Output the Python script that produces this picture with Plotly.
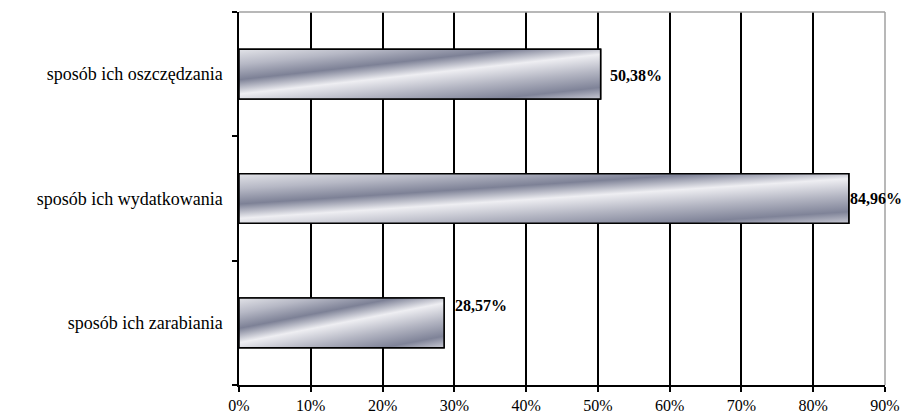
import base64
import plotly.graph_objects as go

# ---- data ----
categories = ["sposób ich zarabiania", "sposób ich wydatkowania", "sposób ich oszczędzania"]
values = [28.57, 84.96, 50.38]
value_labels = ["28,57%", "84,96%", "50,38%"]
x_tick_vals = [0, 10, 20, 30, 40, 50, 60, 70, 80, 90]
x_tick_text = ["0%", "10%", "20%", "30%", "40%", "50%", "60%", "70%", "80%", "90%"]

# ---- styling ----
BAR_W = 0.4
FONT = "Liberation Serif"
label_offsets = [(9, 17), (-1, 0), (7, -1)]  # (xshift, yshift) px per data label

# gradient fill (Excel-style metallic) as stretched SVG
svg = (
    "<svg xmlns='http://www.w3.org/2000/svg' width='100' height='100' viewBox='0 0 100 100' "
    "preserveAspectRatio='none'><defs><linearGradient id='g' x1='0' y1='0' x2='0.878' y2='1.098'>"
    "<stop offset='0' stop-color='#e2e3e8'/>"
    "<stop offset='0.17' stop-color='#b6b8c5'/>"
    "<stop offset='0.34' stop-color='#7d8196'/>"
    "<stop offset='0.50' stop-color='#eeeef2'/>"
    "<stop offset='0.69' stop-color='#b3b5c2'/>"
    "<stop offset='0.87' stop-color='#7f8398'/>"
    "<stop offset='1' stop-color='#c9cad4'/>"
    "</linearGradient></defs><rect width='100' height='100' fill='url(#g)'/></svg>"
)
uri = "data:image/svg+xml;base64," + base64.b64encode(svg.encode()).decode()

fig = go.Figure()
fig.add_trace(go.Bar(
    y=categories,
    x=values,
    orientation="h",
    width=BAR_W,
    marker=dict(color="#b4b6c3", line=dict(color="black", width=1.5)),
    hoverinfo="skip",
))

images = []
shapes = []
annotations = []
for i, v in enumerate(values):
    images.append(dict(
        source=uri, xref="x", yref="y", x=0, y=i + BAR_W / 2,
        sizex=v, sizey=BAR_W, xanchor="left", yanchor="top",
        sizing="stretch", layer="above",
    ))
    shapes.append(dict(
        type="rect", xref="x", yref="y", x0=0, x1=v,
        y0=i - BAR_W / 2, y1=i + BAR_W / 2,
        line=dict(color="black", width=1.5), layer="above",
    ))
    dx, dy = label_offsets[i]
    annotations.append(dict(
        x=v, y=i, xref="x", yref="y", text="<b>" + value_labels[i] + "</b>",
        showarrow=False, xanchor="left", yanchor="middle",
        xshift=dx, yshift=dy,
        font=dict(family=FONT, size=16, color="black"),
    ))

# grey top/right frame
shapes.append(dict(type="line", xref="paper", yref="paper", x0=0, x1=1, y0=1, y1=1,
                   line=dict(color="#a0a0a0", width=1.5), layer="above"))
shapes.append(dict(type="line", xref="paper", yref="paper", x0=1, x1=1, y0=0, y1=1,
                   line=dict(color="#a0a0a0", width=1.5), layer="above"))

fig.update_layout(
    width=904, height=418,
    autosize=False,
    margin=dict(l=239, r=19, t=12, b=33, pad=0, autoexpand=False),
    paper_bgcolor="white", plot_bgcolor="white",
    showlegend=False,
    images=images,
    shapes=shapes,
    annotations=annotations,
    font=dict(family=FONT, color="black"),
    xaxis=dict(
        range=[0, 90], tickvals=x_tick_vals, ticktext=x_tick_text,
        showgrid=True, gridcolor="black", gridwidth=1.5,
        showline=True, linecolor="black", linewidth=1.5,
        ticks="outside", ticklen=5, tickwidth=1.5, tickcolor="black",
        tickfont=dict(family=FONT, size=16, color="black"),
        zeroline=False, fixedrange=True, automargin=False,
    ),
    yaxis=dict(
        type="category", categoryorder="array", categoryarray=categories,
        range=[-0.5, 2.5],
        showgrid=False, zeroline=False,
        showline=True, linecolor="black", linewidth=1.5,
        ticks="outside", tickson="boundaries", ticklen=5, tickwidth=1.5, tickcolor="black",
        ticklabelstandoff=11,
        tickfont=dict(family=FONT, size=18, color="black"),
        fixedrange=True, automargin=False,
    ),
)

fig.write_html("out.html")
